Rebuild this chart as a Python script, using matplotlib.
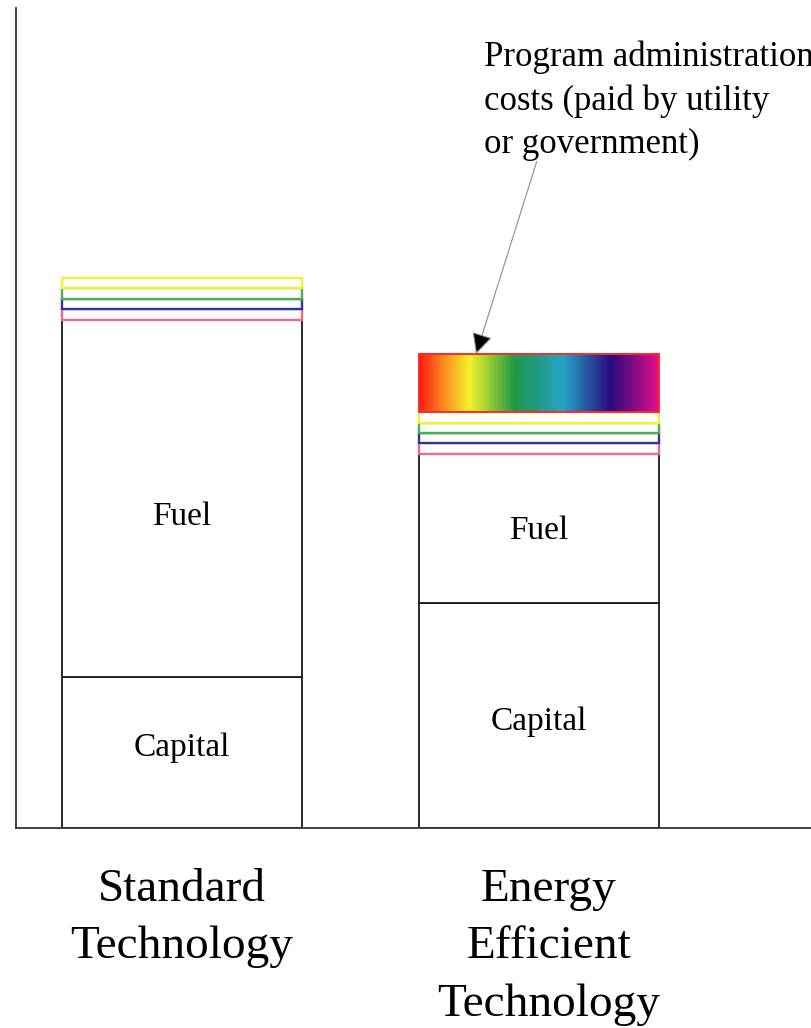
import numpy as np
import matplotlib
matplotlib.use("Agg")
import matplotlib.pyplot as plt
from matplotlib.patches import Rectangle
from matplotlib.colors import LinearSegmentedColormap
from matplotlib.transforms import ScaledTranslation

plt.rcParams['font.family'] = ['Liberation Serif', 'DejaVu Serif']

# Cost components (arbitrary cost units)
technologies = ["Standard\nTechnology", "Energy\nEfficient\nTechnology"]
capital = [18.4, 27.4]
fuel = [43.5, 18.2]
# Thin external-cost bands stacked above fuel (bottom to top)
band_colors = ["#ee6a8c", "#34349a", "#4cae52", "#f2f232"]
band_values = [[1.35, 1.3, 1.25, 1.25],
               [1.3, 1.25, 1.25, 1.3]]
# Program administration cost (efficient technology only)
admin_cost = 7.1

# Label heights inside the bars
fuel_label_y = [38.0, 36.3]
capital_label_y = [9.8, 13.0]

annotation_text = "Program administration\ncosts (paid by utility\nor government)"

W, H = 812, 1028
fig = plt.figure(figsize=(W / 100, H / 100), dpi=100)
fig.patch.set_facecolor("white")
ax = fig.add_axes([16 / W, 200 / H, 796 / W, 820 / H])

x = np.arange(len(technologies))
width = 0.672

ax.bar(x, capital, width, color="white", edgecolor="#1a1a1a", linewidth=1.3, zorder=2)
ax.bar(x, fuel, width, bottom=capital, color="white", edgecolor="#1a1a1a",
       linewidth=1.3, zorder=2)

tops = []
for i in range(len(technologies)):
    base = capital[i] + fuel[i]
    for val, col in zip(band_values[i], band_colors):
        ax.bar(x[i], val, width, bottom=base, color="white", edgecolor=col,
               linewidth=1.7, zorder=3)
        base += val
    tops.append(base)

# Rainbow gradient block for administration costs
rainbow = LinearSegmentedColormap.from_list("admin", [
    (0.00, "#ff1a14"), (0.10, "#fb8a20"), (0.21, "#f4f22a"),
    (0.40, "#1e9a46"), (0.48, "#1f9a80"), (0.60, "#26a5c6"),
    (0.80, "#2a0a80"), (1.00, "#e4108a")])
g_left = x[1] - width / 2
g_bottom = tops[1]
grad = np.linspace(0, 1, 512).reshape(1, -1)
ax.imshow(grad, cmap=rainbow, aspect="auto", zorder=3,
          extent=[g_left, g_left + width, g_bottom, g_bottom + admin_cost])
ax.add_patch(Rectangle((g_left, g_bottom), width, admin_cost, fill=False,
                       edgecolor="#ff2a2a", linewidth=1.4, zorder=4))

# Segment labels
for i in range(len(technologies)):
    ax.text(x[i], fuel_label_y[i], "Fuel", ha="center", va="center", fontsize=24)
    ax.text(x[i], capital_label_y[i], "Capital", ha="center", va="center", fontsize=24)

# Annotation pointing to the administration cost block
ax.text(0.846, 96.0, annotation_text, ha="left", va="top", fontsize=25,
        linespacing=1.4, clip_on=False)
ax.annotate("", xy=(g_left + 0.16, g_bottom + admin_cost),
            xytext=(0.994, 81.3),
            arrowprops=dict(arrowstyle="-|>,head_length=0.5,head_width=0.25",
                            fc="black", ec="0.55", lw=0.8,
                            mutation_scale=26, shrinkA=0, shrinkB=0))

ax.set_xlim(-0.465, 1.765)
ax.set_ylim(0, 100)
ax.set_xticks(x)
ax.set_xticklabels(technologies, fontsize=34, linespacing=1.46, va="top")
ax.tick_params(axis="x", length=0, pad=29)
ax.set_yticks([])
# second category label sits slightly right of its bar centre
lbl = ax.get_xticklabels()[1]
lbl.set_transform(lbl.get_transform() + ScaledTranslation(0.1, 0, fig.dpi_scale_trans))

for side in ("top", "right"):
    ax.spines[side].set_visible(False)
for side in ("left", "bottom"):
    ax.spines[side].set_color("#333333")
    ax.spines[side].set_linewidth(1.3)

fig.savefig("out.png", dpi=100, facecolor="white")
